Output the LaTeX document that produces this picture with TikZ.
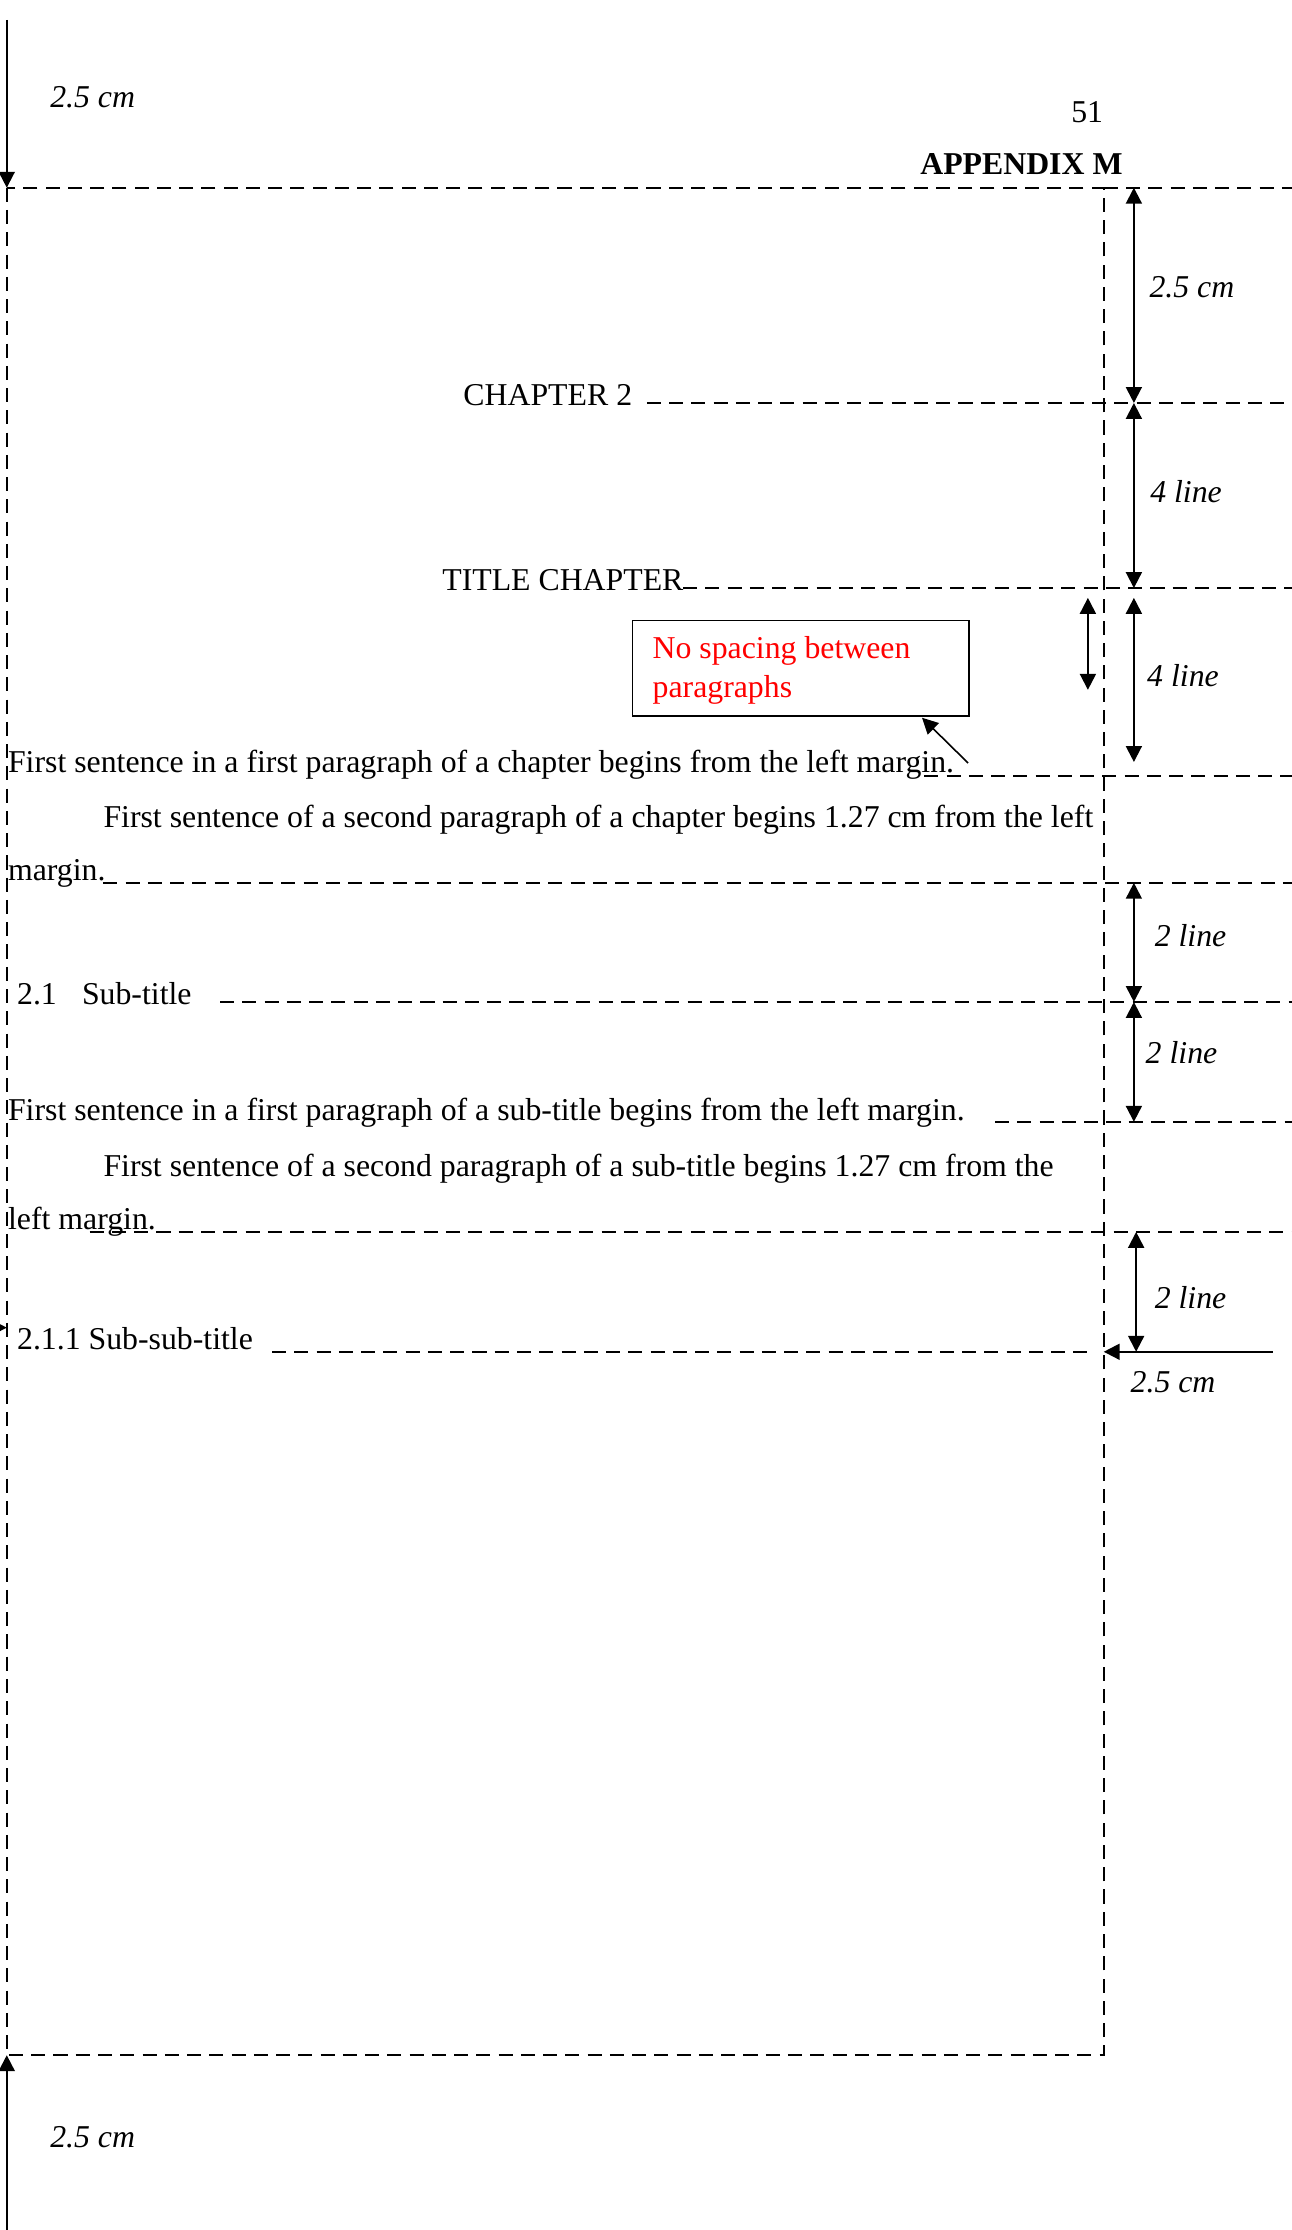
\documentclass[tikz,border=0pt]{standalone}
\usepackage{fontspec}
\setmainfont{Liberation Serif}
\usetikzlibrary{arrows.meta, calc}

\begin{document}
\begin{tikzpicture}[
    font=\fontsize{12}{14}\selectfont,
    % Styles
    txt/.style={anchor=base west, inner sep=0pt},
    dim/.style={anchor=base west, inner sep=0pt, font=\fontsize{12}{14}\selectfont\itshape},
    guide/.style={dash pattern=on 5.3pt off 3.1pt, line width=0.6pt},
    measure/.style={{Triangle[length=6pt,width=6pt]}-{Triangle[length=6pt,width=6pt]}, line width=0.75pt},
    arrow/.style={-{Triangle[length=6pt,width=6pt]}, line width=0.75pt},
    note/.style={draw, line width=0.6pt, minimum width=4.46cm, minimum height=1.27cm, inner sep=0pt}
]

    \useasboundingbox (0,0) rectangle (17.137,-29.579);

    % --- Page frame ---
    \coordinate (tl) at (0.09,-2.49);
    \coordinate (br) at (14.64,-27.26);
    \coordinate (redge) at (17.137,0);
    \draw[guide] (tl) rectangle (br);
    \draw[guide] (tl -| br) -- (tl -| redge);

    % --- Top and bottom margins ---
    \coordinate (ptop) at (0.09,-0.265);
    \coordinate (pbot) at (0.09,-29.58);
    \draw[arrow] (ptop) -- (tl);
    \draw[arrow] (pbot) -- (tl |- br);
    \node[dim] (mtop) at (0.66,-1.42) {2.5 cm};
    \node[dim] (mbot) at (0.66,-28.49) {2.5 cm};

    % --- Header ---
    \node[anchor=base, inner sep=0pt] (pg) at (14.42,-1.63) {51};
    \node[txt, font=\fontsize{12}{14}\selectfont\bfseries] (app) at (12.20,-2.32) {APPENDIX M};

    % --- Chapter heading ---
    \node[txt] (chap) at (6.14,-5.372) {CHAPTER 2};
    \coordinate (lchap) at (8.58,-5.345);
    \draw[guide] (lchap) -- (lchap -| redge);

    \node[txt] (title) at (5.86,-7.826) {TITLE CHAPTER};
    \coordinate (ltitle) at (9.06,-7.80);
    \draw[guide] (ltitle) -- (ltitle -| redge);

    % --- Note box ---
    \node[note, anchor=north west] (nobox) at (8.38,-8.22) {};
    \node[txt, text=red] (nt1) at (8.65,-8.74) {No spacing between};
    \node[txt, text=red] (nt2) at (8.65,-9.245) {paragraphs};

    % --- Chapter paragraphs ---
    \node[txt] (par1) at (0.10,-10.24) {First sentence in a first paragraph of a chapter begins from the left margin.};
    \coordinate (lpar1) at (12.26,-10.29);
    \draw[guide] (lpar1) -- (lpar1 -| redge);
    \coordinate (ctail) at (12.84,-10.12);
    \coordinate (ctip) at (12.23,-9.52);
    \draw[arrow, line width=0.6pt] (ctail) -- (ctip);

    \node[txt] (par2a) at (1.366,-10.97) {First sentence of a second paragraph of a chapter begins 1.27 cm from the left};
    \node[txt] (par2b) at (0.10,-11.685) {margin.};
    \coordinate (lpar2) at (1.37,-11.71);
    \draw[guide] (lpar2) -- (lpar2 -| redge);

    % --- Sub-title ---
    \node[txt] (sub) at (0.22,-13.317) {\makebox[24.5pt][l]{2.1}Sub-title};
    \coordinate (lsub) at (2.92,-13.29);
    \draw[guide] (lsub) -- (lsub -| redge);

    \node[txt] (par3) at (0.10,-14.86) {First sentence in a first paragraph of a sub-title begins from the left margin.};
    \coordinate (lpar3) at (13.20,-14.88);
    \draw[guide] (lpar3) -- (lpar3 -| redge);

    \node[txt] (par4a) at (1.366,-15.60) {First sentence of a second paragraph of a sub-title begins 1.27 cm from the};
    \node[txt] (par4b) at (0.10,-16.31) {left margin.};
    \coordinate (lpar4) at (1.19,-16.34);
    \draw[guide] (lpar4) -- (lpar4 -| redge);

    % --- Sub-sub-title ---
    \node[txt] (subsub) at (0.22,-17.905) {2.1.1 Sub-sub-title};
    \coordinate (lss) at (3.61,-17.93);
    \coordinate (lsse) at (14.48,-17.93);
    \draw[guide] (lss) -- (lsse);

    % --- Left and right margins ---
    \coordinate (ltail) at (-0.3,-17.61);
    \draw[arrow] (ltail) -- (tl |- ltail);
    \coordinate (rtail) at (16.885,-17.93);
    \draw[arrow] (rtail) -- (br |- rtail);
    \node[dim] (mright) at (14.99,-18.464) {2.5 cm};

    % --- Spacing dimensions ---
    \coordinate (d0) at (15.04,-2.49);
    \coordinate (d1) at (15.04,-5.345);
    \coordinate (d2) at (15.04,-7.80);
    \coordinate (d3) at (15.04,-7.93);
    \coordinate (d4) at (15.04,-10.107);
    \coordinate (d5) at (15.04,-11.71);
    \coordinate (d6) at (15.04,-13.29);
    \coordinate (d7) at (15.04,-14.88);
    \coordinate (d8) at (15.07,-16.34);
    \coordinate (d9) at (15.07,-17.93);
    \coordinate (s1) at (14.43,-7.93);
    \coordinate (s2) at (14.43,-9.15);

    \draw[measure] (d0) -- (d1);
    \draw[measure] (d1) -- (d2);
    \draw[measure] (d3) -- (d4);
    \draw[measure] (s1) -- (s2);
    \draw[measure] (d5) -- (d6);
    \draw[measure] (d6) -- (d7);
    \draw[measure] (d8) -- (d9);

    \node[dim] (m0) at (15.24,-3.95) {2.5 cm};
    \node[dim] (m1) at (15.25,-6.659) {4 line};
    \node[dim] (m2) at (15.21,-9.11) {4 line};
    \node[dim] (m3) at (15.31,-12.56) {2 line};
    \node[dim] (m4) at (15.19,-14.10) {2 line};
    \node[dim] (m5) at (15.31,-17.35) {2 line};

\end{tikzpicture}
\end{document}
